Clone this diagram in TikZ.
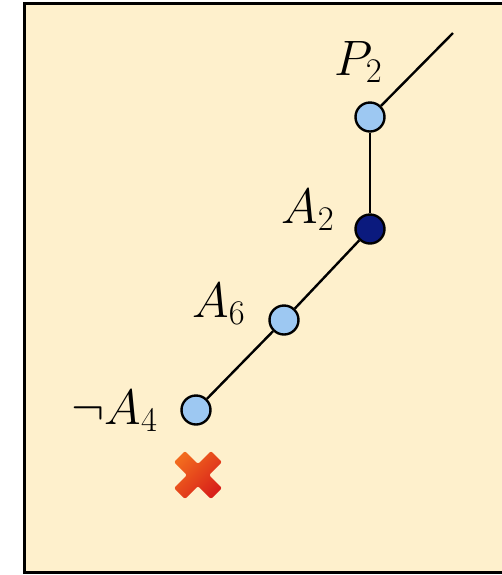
\documentclass[tikz,border=0pt]{standalone}
\usepackage{tikz}
\definecolor{bgcream}{HTML}{FEF0CC}
\definecolor{lightblue}{HTML}{9DC8F2}
\definecolor{navy}{HTML}{0B1A7E}
\definecolor{crossorange}{HTML}{F26A1E}
\definecolor{crossred}{HTML}{D8201A}
\begin{document}
\begin{tikzpicture}[x=0.5pt,y=-0.5pt,
  dot/.style={circle,draw=black,line width=1.2pt,minimum size=14.5pt,inner sep=0pt,fill=lightblue},
  darkdot/.style={dot,fill=navy},
  lbl/.style={anchor=base west,inner sep=0pt,font=\fontsize{24.5}{29}\selectfont},
  edge/.style={draw=black,line width=1.2pt}]
\useasboundingbox (0,0) rectangle (502,575);
\fill[bgcream] (25,3) rectangle (502,572);
\draw[line width=1.5pt,line cap=rect] (502,3) -- (25,3) -- (25,572) -- (502,572);
\node[dot] (p2) at (370,117) {};
\node[darkdot] (a2) at (370,229) {};
\node[dot] (a6) at (284,320) {};
\node[dot] (a4) at (196,410) {};
\coordinate (top) at (453,33);
\draw[edge] (p2) -- (top);
\draw[edge] (p2) -- (a2);
\draw[edge] (a2) -- (a6);
\draw[edge] (a6) -- (a4);
\node[lbl] (lp2) at (334,75) {$P_2$};
\node[lbl] (la2) at (281,223) {$A_2$};
\node[lbl] (la6) at (192,317) {$A_6$};
\node[lbl] (la4) at (71,424) {$\neg A_4$};
\shade[left color=crossorange,right color=crossred,shading angle=45,rounded corners=1pt]
  (174,462) -- (185,451) -- (198,464) -- (211,451) -- (222,462) -- (209,475)
  -- (222,488) -- (211,499) -- (198,486) -- (185,499) -- (174,488) -- (187,475) -- cycle;
\end{tikzpicture}
\end{document}
